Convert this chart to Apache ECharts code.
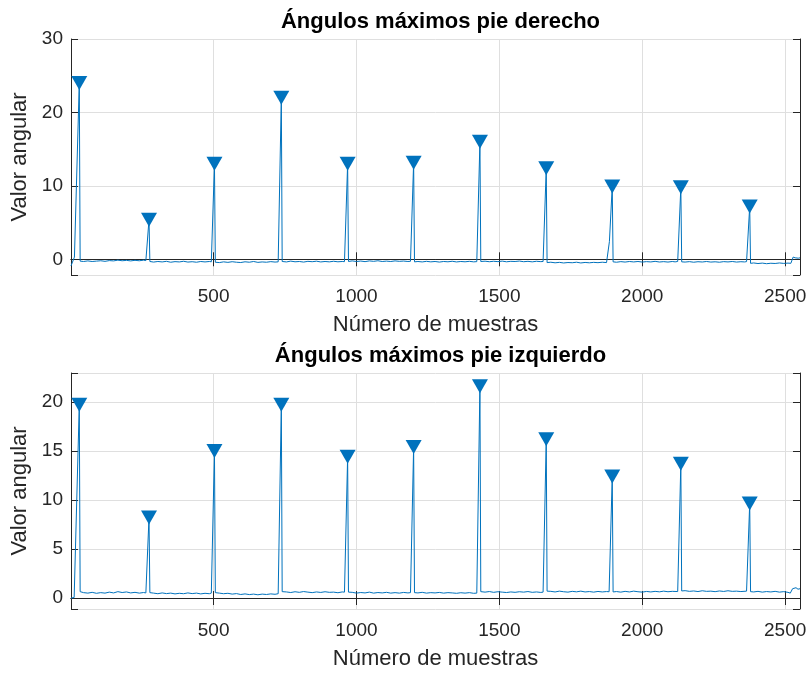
<!DOCTYPE html>
<html>
<head>
<meta charset="utf-8">
<script src="https://cdn.jsdelivr.net/npm/echarts@6/dist/echarts.min.js"></script>
<style>
html,body{margin:0;padding:0;background:#fff;}
#chart{width:811px;height:674px;}
</style>
</head>
<body>
<div id="chart"></div>
<script>
// ---- Data ----
const peakLocs = [30, 274, 503, 737, 969, 1200, 1432, 1664, 1895, 2135, 2376];
const rightPeakVals = [24.0, 5.4, 13.0, 22.0, 13.0, 13.15, 16.0, 12.4, 9.9, 9.8, 7.2];
const leftPeakVals = [19.7, 8.2, 15.0, 19.7, 14.4, 15.4, 21.6, 16.2, 12.4, 13.7, 9.65];

const xTickLabels = [500, 1000, 1500, 2000, 2500];
const rightYTickLabels = [0, 10, 20, 30];
const leftYTickLabels = [0, 5, 10, 15, 20];

// right foot signal: [sample, angle]
const rightSignal = [
[1,-0.9],[5,-0.85],[13,0.3],[30,24.0],[33,-0.25],
[45,-0.3],[60,-0.22],[75,-0.3],[90,-0.25],[105,-0.2],[120,-0.28],[135,-0.18],[150,-0.22],[165,-0.12],[180,-0.2],[195,-0.15],[210,-0.22],[225,-0.14],[240,-0.2],[255,-0.12],[263,-0.18],
[274,5.4],[277,-0.3],
[290,-0.38],[305,-0.3],[320,-0.36],[335,-0.28],[350,-0.4],[365,-0.32],[380,-0.36],[395,-0.27],[410,-0.38],[425,-0.33],[440,-0.4],[455,-0.3],[470,-0.36],[485,-0.3],[492,-0.34],
[503,13.0],[506,-0.4],
[520,-0.45],[535,-0.35],[550,-0.42],[565,-0.33],[580,-0.4],[595,-0.44],[610,-0.34],[625,-0.4],[640,-0.3],[655,-0.42],[670,-0.36],[685,-0.4],[700,-0.32],[715,-0.38],[726,-0.35],
[737,22.0],[740,-0.3],
[755,-0.36],[770,-0.25],[785,-0.34],[800,-0.3],[815,-0.38],[830,-0.28],[845,-0.33],[860,-0.26],[875,-0.36],[890,-0.3],[905,-0.35],[920,-0.27],[935,-0.34],[950,-0.3],[958,-0.32],
[969,13.0],[972,-0.3],
[985,-0.22],[1000,-0.3],[1015,-0.24],[1030,-0.32],[1045,-0.22],[1060,-0.28],[1075,-0.2],[1090,-0.3],[1105,-0.25],[1120,-0.3],[1135,-0.22],[1150,-0.28],[1165,-0.24],[1180,-0.3],[1189,-0.27],
[1200,13.15],[1203,-0.35],
[1215,-0.3],[1230,-0.36],[1245,-0.28],[1260,-0.35],[1275,-0.3],[1290,-0.38],[1305,-0.3],[1320,-0.34],[1335,-0.27],[1350,-0.36],[1365,-0.3],[1380,-0.34],[1395,-0.28],[1410,-0.35],[1421,-0.32],
[1432,16.0],[1435,-0.3],
[1450,-0.26],[1465,-0.33],[1480,-0.27],[1495,-0.32],[1510,-0.25],[1525,-0.34],[1540,-0.28],[1555,-0.3],[1570,-0.24],[1585,-0.33],[1600,-0.28],[1615,-0.35],[1630,-0.27],[1645,-0.32],[1653,-0.3],
[1664,12.4],[1667,-0.45],
[1680,-0.4],[1695,-0.48],[1710,-0.42],[1725,-0.5],[1740,-0.44],[1755,-0.47],[1770,-0.4],[1785,-0.5],[1800,-0.43],[1815,-0.48],[1830,-0.42],[1845,-0.46],[1860,-0.4],[1875,-0.45],[1881,-0.42],
[1885,2.4],[1887,2.6],[1895,9.9],[1898,-0.35],
[1910,-0.4],[1925,-0.32],[1940,-0.38],[1955,-0.3],[1970,-0.36],[1985,-0.3],[2000,-0.38],[2015,-0.32],[2030,-0.36],[2045,-0.28],[2060,-0.37],[2075,-0.32],[2090,-0.38],[2105,-0.3],[2115,-0.35],[2124,-0.3],
[2135,9.8],[2138,-0.35],
[2150,-0.38],[2165,-0.32],[2180,-0.4],[2195,-0.33],[2210,-0.37],[2225,-0.3],[2240,-0.38],[2255,-0.34],[2270,-0.4],[2285,-0.32],[2300,-0.36],[2315,-0.3],[2330,-0.38],[2345,-0.33],[2358,-0.36],[2365,-0.32],
[2376,7.2],[2379,-0.55],
[2390,-0.5],[2405,-0.58],[2420,-0.52],[2435,-0.6],[2450,-0.54],[2465,-0.57],[2480,-0.5],[2495,-0.56],[2510,-0.52],[2520,-0.55],
[2524,-0.3],[2528,0.3],[2535,0.2],[2540,0.28],[2546,0.15],[2552,0.2]
];

// left foot signal: [sample, angle]
const leftSignal = [
[1,0],[12,0.05],[30,19.7],[33,0.65],
[45,0.55],[60,0.5],[75,0.58],[90,0.48],[105,0.55],[120,0.5],[135,0.6],[150,0.52],[165,0.65],[180,0.56],[195,0.62],[210,0.52],[225,0.58],[240,0.5],[255,0.56],[263,0.52],
[274,8.2],[277,0.55],
[290,0.5],[305,0.44],[320,0.52],[335,0.45],[350,0.5],[365,0.42],[380,0.48],[395,0.44],[410,0.52],[425,0.45],[440,0.5],[455,0.42],[470,0.48],[485,0.44],[492,0.5],
[503,15.0],[506,0.55],
[520,0.5],[535,0.44],[550,0.48],[565,0.4],[580,0.45],[595,0.36],[610,0.42],[625,0.35],[640,0.4],[655,0.33],[670,0.4],[685,0.36],[700,0.42],[715,0.38],[726,0.44],
[737,19.7],[740,0.65],
[755,0.62],[770,0.56],[785,0.64],[800,0.58],[815,0.66],[830,0.6],[845,0.55],[860,0.62],[875,0.57],[890,0.64],[905,0.58],[920,0.6],[935,0.54],[950,0.62],[958,0.6],
[969,14.4],[972,0.6],
[985,0.58],[1000,0.5],[1015,0.56],[1030,0.52],[1045,0.6],[1060,0.5],[1075,0.56],[1090,0.52],[1105,0.58],[1120,0.5],[1135,0.55],[1150,0.5],[1165,0.57],[1180,0.52],[1189,0.55],
[1200,15.4],[1203,0.55],
[1215,0.52],[1230,0.58],[1245,0.5],[1260,0.55],[1275,0.52],[1290,0.57],[1305,0.5],[1320,0.55],[1335,0.52],[1350,0.48],[1365,0.54],[1380,0.5],[1395,0.55],[1410,0.48],[1421,0.5],
[1432,21.6],[1435,0.65],
[1450,0.6],[1465,0.66],[1480,0.58],[1495,0.64],[1510,0.6],[1525,0.56],[1540,0.62],[1555,0.58],[1570,0.64],[1585,0.6],[1600,0.66],[1615,0.58],[1630,0.62],[1645,0.57],[1653,0.6],
[1664,16.2],[1667,0.7],
[1680,0.68],[1695,0.62],[1710,0.7],[1725,0.64],[1740,0.6],[1755,0.68],[1770,0.63],[1785,0.7],[1800,0.62],[1815,0.66],[1830,0.6],[1845,0.67],[1860,0.62],[1875,0.66],[1884,0.64],
[1895,12.4],[1898,0.62],
[1910,0.66],[1925,0.6],[1940,0.68],[1955,0.62],[1970,0.7],[1985,0.64],[2000,0.6],[2015,0.67],[2030,0.62],[2045,0.68],[2060,0.63],[2075,0.7],[2090,0.64],[2105,0.68],[2124,0.66],
[2135,13.7],[2138,0.72],
[2150,0.75],[2165,0.68],[2180,0.72],[2195,0.66],[2210,0.74],[2225,0.68],[2240,0.7],[2255,0.65],[2270,0.72],[2285,0.67],[2300,0.74],[2315,0.68],[2330,0.7],[2345,0.66],[2365,0.7],
[2376,9.65],[2379,0.65],
[2390,0.62],[2405,0.68],[2420,0.6],[2435,0.66],[2450,0.62],[2465,0.68],[2480,0.6],[2495,0.65],[2510,0.58],[2518,0.5],[2522,0.4],
[2526,0.95],[2532,0.85],[2538,1.05],[2545,0.9],[2552,0.95]
];

// ---- Chart ----
const FONT = 'Liberation Sans, Arial, sans-serif';
const DARK = '#262626';
const BLUE = '#0072BD';
const X_MIN = 1, X_MAX = 2552;
const axesRanges = [
  {ymin: -2.14, ymax: 30, step: 10, labels: rightYTickLabels},
  {ymin: -1.12, ymax: 22.95, step: 5, labels: leftYTickLabels}
];

function tickFormatter(list) {
  return function (v) {
    for (const t of list) { if (Math.abs(t - v) < 1e-6) return String(t); }
    return '';
  };
}

const grids = [
  {left: 71, top: 39, width: 729, height: 236},
  {left: 71, top: 373, width: 729, height: 236}
];

const xAxes = [], yAxes = [];
[0, 1].forEach(function (g) {
  const r = axesRanges[g];
  xAxes.push({
    type: 'value', gridIndex: g, min: X_MIN, max: X_MAX,
    minInterval: 500, maxInterval: 500,
    name: 'Número de muestras', nameLocation: 'middle', nameGap: 39,
    nameTextStyle: {fontSize: 22, color: DARK, fontFamily: FONT},
    axisLine: {show: true, lineStyle: {color: DARK, width: 1}},
    axisTick: {show: true, inside: true, length: 7, lineStyle: {color: DARK}},
    axisLabel: {show: true, color: DARK, fontSize: 19, fontFamily: FONT, margin: 12,
                formatter: tickFormatter(xTickLabels), showMinLabel: true, showMaxLabel: true},
    splitLine: {show: true, lineStyle: {color: '#dfdfdf', width: 1}}
  });
  yAxes.push({
    type: 'value', gridIndex: g, min: r.ymin, max: r.ymax,
    minInterval: r.step, maxInterval: r.step,
    name: 'Valor angular', nameLocation: 'middle', nameGap: 36,
    nameTextStyle: {fontSize: 22, color: DARK, fontFamily: FONT},
    axisLine: {show: true, lineStyle: {color: DARK, width: 1}},
    axisTick: {show: true, inside: true, length: 7, lineStyle: {color: DARK}},
    axisLabel: {show: true, color: DARK, fontSize: 19, fontFamily: FONT, margin: 8,
                formatter: tickFormatter(r.labels)},
    splitLine: {show: true, lineStyle: {color: '#dfdfdf', width: 1}}
  });
});
// mirrored box axes (top / right) with inside ticks
[0, 1].forEach(function (g) {
  const r = axesRanges[g];
  xAxes.push({
    type: 'value', gridIndex: g, position: 'top', min: X_MIN, max: X_MAX,
    minInterval: 500, maxInterval: 500,
    axisLine: {show: true, lineStyle: {color: DARK, width: 1}},
    axisTick: {show: true, inside: true, length: 7, lineStyle: {color: DARK}},
    axisLabel: {show: false}, splitLine: {show: false}
  });
  yAxes.push({
    type: 'value', gridIndex: g, position: 'right', min: r.ymin, max: r.ymax,
    minInterval: r.step, maxInterval: r.step,
    axisLine: {show: true, lineStyle: {color: DARK, width: 1}},
    axisTick: {show: true, inside: true, length: 7, lineStyle: {color: DARK}},
    axisLabel: {show: false}, splitLine: {show: false}
  });
});

function peakPoints(vals) {
  return peakLocs.map(function (x, i) { return [x, vals[i]]; });
}

const markerStyle = {color: BLUE, opacity: 1, borderWidth: 0};

const option = {
  animation: false,
  backgroundColor: '#fff',
  title: [
    {text: 'Ángulos máximos pie derecho', left: 435.5, top: 6, textAlign: 'center',
     textStyle: {fontSize: 22, fontWeight: 'bold', color: '#000', fontFamily: FONT}},
    {text: 'Ángulos máximos pie izquierdo', left: 435.5, top: 340, textAlign: 'center',
     textStyle: {fontSize: 22, fontWeight: 'bold', color: '#000', fontFamily: FONT}}
  ],
  grid: grids,
  xAxis: xAxes,
  yAxis: yAxes,
  series: [
    {type: 'line', xAxisIndex: 0, yAxisIndex: 0, data: rightSignal, showSymbol: false,
     symbol: 'none', lineStyle: {color: BLUE, width: 1}, z: 2},
    {type: 'scatter', xAxisIndex: 0, yAxisIndex: 0, data: peakPoints(rightPeakVals),
     symbol: 'triangle', symbolRotate: 180, symbolSize: [16, 14], itemStyle: markerStyle, z: 3},
    {type: 'line', xAxisIndex: 1, yAxisIndex: 1, data: leftSignal, showSymbol: false,
     symbol: 'none', lineStyle: {color: BLUE, width: 1}, z: 2},
    {type: 'scatter', xAxisIndex: 1, yAxisIndex: 1, data: peakPoints(leftPeakVals),
     symbol: 'triangle', symbolRotate: 180, symbolSize: [16, 14], itemStyle: markerStyle, z: 3}
  ]
};

const chart = echarts.init(document.getElementById('chart'), null, {renderer: 'canvas'});
chart.setOption(option);
</script>
</body>
</html>
